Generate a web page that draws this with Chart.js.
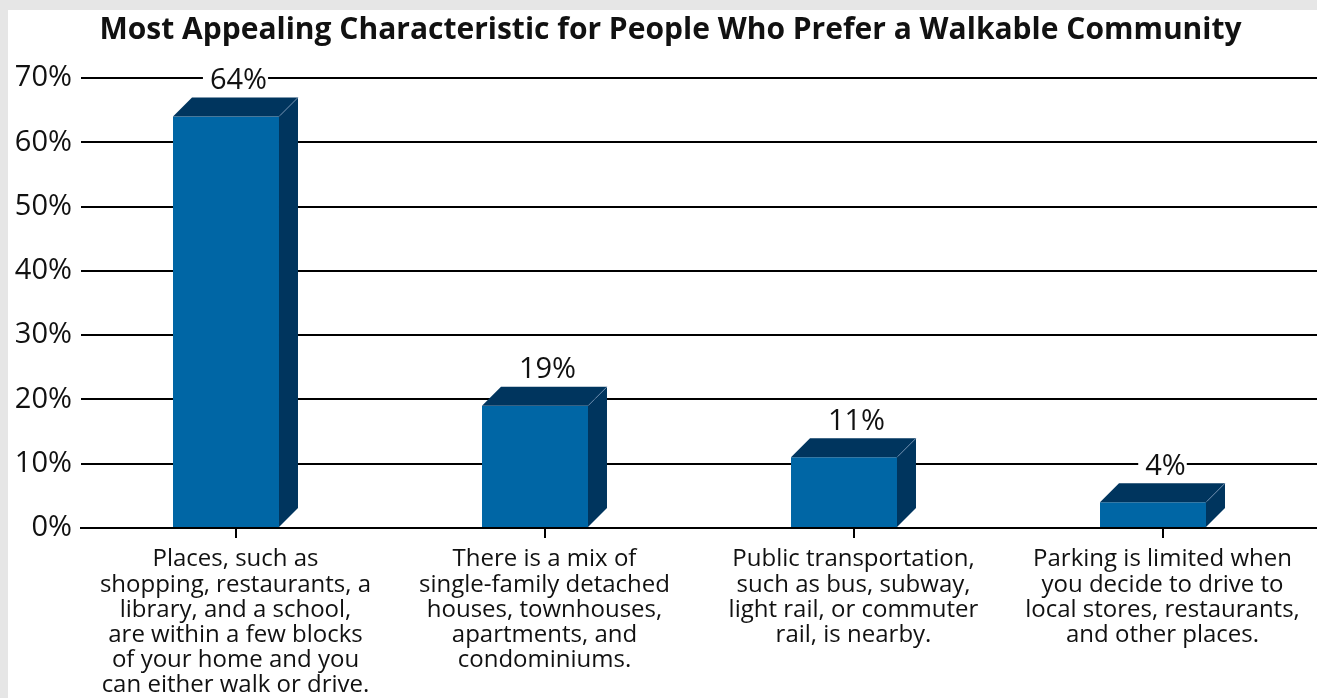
<!DOCTYPE html>
<html>
<head>
<meta charset="utf-8">
<script src="https://cdn.jsdelivr.net/npm/chart.js@4"></script>
<style>
  body { margin: 0; background: #e6e6e6; }
  #panel { position: absolute; left: 8px; top: 10px; width: 1309px; height: 688px; background: #fff; }
</style>
</head>
<body>
<div id="panel"><canvas id="myChart" width="1309" height="688"></canvas></div>
<script>
// chart data
const categories = [
  ['Places, such as', 'shopping, restaurants, a', 'library, and a school,', 'are within a few blocks', 'of your home and you', 'can either walk or drive.'],
  ['There is a mix of', 'single-family detached', 'houses, townhouses,', 'apartments, and', 'condominiums.'],
  ['Public transportation,', 'such as bus, subway,', 'light rail, or commuter', 'rail, is nearby.'],
  ['Parking is limited when', 'you decide to drive to', 'local stores, restaurants,', 'and other places.']
];
const values = [64, 19, 11, 4];
const titleText = 'Most Appealing Characteristic for People Who Prefer a Walkable Community';

const frontColor = '#0066a5';
const darkColor = '#00355e';
const depth = 19;

// title sits a little right of the canvas centre in the original
const titleShift = {
  id: 'titleShift',
  afterLayout(chart) {
    if (chart.titleBlock) chart.titleBlock.left += 16;
  }
};

// draws the 3d boxes from the bar elements, then the value labels
const boxes3d = {
  id: 'boxes3d',
  afterDatasetsDraw(chart) {
    let ctx = chart.ctx;
    let meta = chart.getDatasetMeta(0);
    meta.data.forEach((bar, i) => {
      let w = bar.width;
      let left = bar.x - (w + depth) / 2;
      let top = bar.y;
      let base = bar.base;
      ctx.save();
      // front
      ctx.fillStyle = frontColor;
      ctx.fillRect(left, top, w, base - top);
      // top face
      ctx.fillStyle = darkColor;
      ctx.beginPath();
      ctx.moveTo(left, top);
      ctx.lineTo(left + depth, top - depth);
      ctx.lineTo(left + w + depth, top - depth);
      ctx.lineTo(left + w, top);
      ctx.closePath();
      ctx.fill();
      // side face
      ctx.beginPath();
      ctx.moveTo(left + w, top);
      ctx.lineTo(left + w + depth, top - depth);
      ctx.lineTo(left + w + depth, base - depth);
      ctx.lineTo(left + w, base);
      ctx.closePath();
      ctx.fill();
      // faint edge highlight
      ctx.strokeStyle = 'rgba(120,150,185,0.7)';
      ctx.lineWidth = 1;
      ctx.beginPath();
      ctx.moveTo(left + w + 1, top - 1);
      ctx.lineTo(left + w + depth, top - depth);
      ctx.stroke();

      // value label with white box
      let txt = values[i] + '%';
      ctx.font = '29px "Open Sans"';
      let tw = ctx.measureText(txt).width;
      let cy = top - depth - 18;
      ctx.fillStyle = '#fff';
      ctx.fillRect(bar.x - tw / 2 - 4, cy - 14, tw + 8, 28);
      ctx.fillStyle = '#111';
      ctx.textAlign = 'center';
      ctx.textBaseline = 'middle';
      ctx.fillText(txt, bar.x + 3, cy + 1);
      ctx.restore();
    });
  }
};

let ctx = document.getElementById('myChart').getContext('2d');
let chart = new Chart(ctx, {
  type: 'bar',
  data: {
    labels: categories,
    datasets: [{
      data: values,
      backgroundColor: 'rgba(0,0,0,0)',
      borderWidth: 0,
      barPercentage: 0.343,
      categoryPercentage: 1
    }]
  },
  options: {
    responsive: false,
    animation: false,
    devicePixelRatio: 1,
    layout: { padding: 0 },
    plugins: {
      legend: { display: false },
      tooltip: { enabled: false },
      title: {
        display: true,
        text: titleText,
        color: '#111',
        font: { family: '"Open Sans"', size: 30, weight: 'bold' },
        padding: { top: 2, bottom: 30 }
      }
    },
    scales: {
      x: {
        grid: { display: true, drawOnChartArea: false, drawTicks: true, tickLength: 10, offset: false, color: '#000', lineWidth: 2 },
        border: { display: true, color: '#000', width: 2 },
        ticks: {
          color: '#111',
          padding: 9,
          maxRotation: 0,
          autoSkip: false,
          font: { family: '"Open Sans"', size: 24, lineHeight: 1.05 }
        },
        afterFit(scale) { scale.height = 170; }
      },
      y: {
        min: 0,
        max: 70,
        grid: { color: '#000', lineWidth: 2, drawTicks: false },
        border: { display: false },
        ticks: {
          stepSize: 10,
          padding: 9,
          color: '#111',
          font: { family: '"Open Sans"', size: 29 },
          callback: (v) => v + '%'
        },
        afterFit(scale) { scale.width = 73; }
      }
    }
  },
  plugins: [titleShift, boxes3d]
});
</script>
</body>
</html>
